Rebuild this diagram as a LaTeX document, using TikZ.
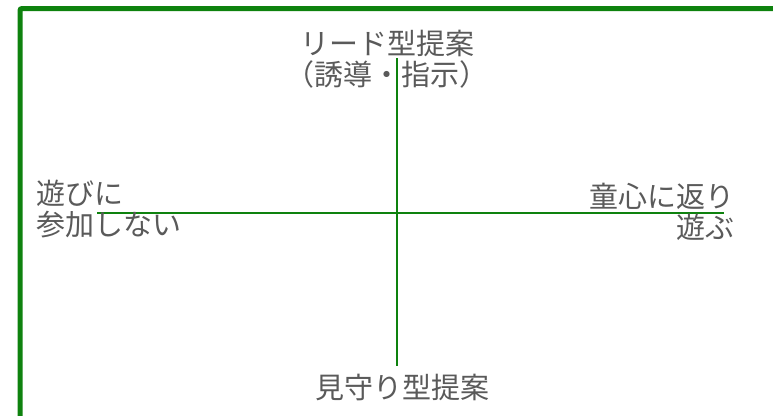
\documentclass[tikz,border=0pt]{standalone}
\usepackage{fontspec}
\setmainfont{Noto Sans CJK JP}
\usetikzlibrary{positioning}
\definecolor{axisgreen}{RGB}{14,130,14}
\definecolor{labelgray}{RGB}{90,90,90}

\begin{document}
\begin{tikzpicture}[x=1pt, y=-1pt,
    axis/.style={draw=axisgreen, line width=2pt},
    lbl/.style={text=labelgray, inner sep=0pt, font=\fontsize{29}{31}\selectfont}]
  \useasboundingbox (0,0) rectangle (773,415);
  \clip (0,0) rectangle (773,415);
  % frame, cut off at the right and the bottom
  \draw[axisgreen, line width=5pt, rounded corners=2pt] (20,440) -- (20,8.5) -- (800,8.5);

  \coordinate (top end) at (397,58);
  \coordinate (bottom end) at (397,366);
  \coordinate (left end) at (97,213);
  \coordinate (right end) at (724,213);
  \draw[axis] (top end) -- (bottom end);
  \draw[axis] (left end) -- (right end);

  \node[lbl, align=center, anchor=base] (lead) at (387,85) {リード型提案\\（誘導・指示）};
  \node[lbl, anchor=base] (watch) at (402,398) {見守り型提案};
  \node[lbl, align=left, anchor=base west] (stayout) at (36,235) {遊びに\\参加しない};
  \node[lbl, align=right, anchor=base east] (play) at (735,238) {童心に返り\\遊ぶ};
\end{tikzpicture}
\end{document}
